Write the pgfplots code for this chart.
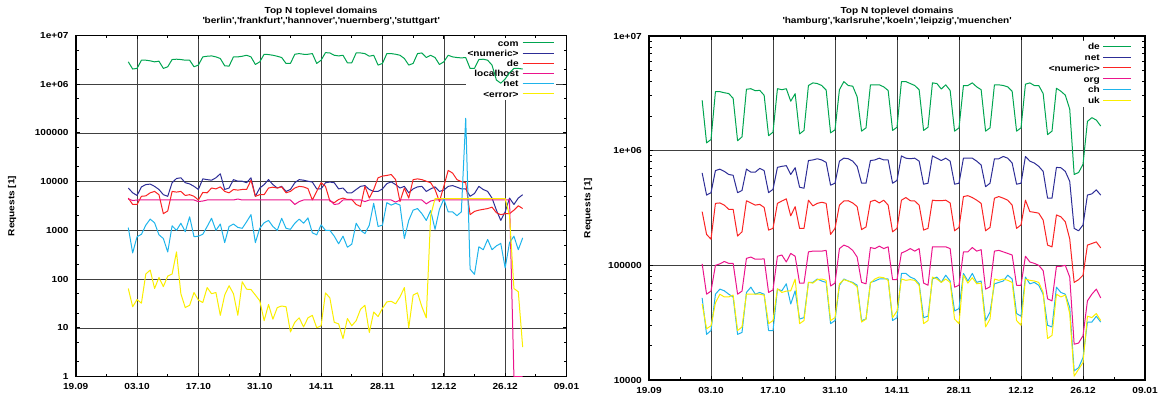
\documentclass[border=0pt]{standalone}
\usepackage{fontspec}
\setmainfont{Liberation Sans}[FakeStretch=1.15]
\usepackage{pgfplots}
\pgfplotsset{compat=1.18}
\usepackage{pgfplotstable}
\definecolor{cG}{RGB}{0,165,80}
\definecolor{cN}{RGB}{45,45,150}
\definecolor{cR}{RGB}{250,35,35}
\definecolor{cM}{RGB}{235,20,140}
\definecolor{cC}{RGB}{30,180,235}
\definecolor{cY}{RGB}{250,238,0}
\newcommand\fnt{\fontsize{8.8}{10}\selectfont\bfseries}
\newcommand\q{\textquotesingle}
\newcommand\lsL{\rule[-3.3bp]{0pt}{9.9bp}}
\newcommand\lsR{\rule[-3.5bp]{0pt}{10.5bp}}

\pgfplotstableread{
d com num de lh net err
12 2.88e6 7.4e3 4.6e3 4400 1140 64
13 2.05e6 5.9e3 3.4e3 4100 344 27
14 2.11e6 5.2e3 3.4e3 4200 740 38
15 3.11e6 7.8e3 5.0e3 4200 830 32
16 3.11e6 8.7e3 5.1e3 4200 1280 127
17 3.02e6 8.9e3 5.9e3 4200 1700 153
18 2.88e6 8.0e3 6.3e3 4200 1430 64
19 2.97e6 6.9e3 5.4e3 4200 810 108
20 2.11e6 5.4e3 2.2e3 4200 680 70
21 2.28e6 5.0e3 2.5e3 4200 360 115
22 3.21e6 9.5e3 6.3e3 4200 1240 127
23 3.26e6 1.16e4 6.1e3 4200 1000 360
24 3.21e6 1.2e4 6.3e3 4200 1400 50
25 3.11e6 9.5e3 5.2e3 4200 940 26
26 3.11e6 9.0e3 5.4e3 4200 1900 29
27 2.28e6 8.0e3 5.0e3 4200 740 53
28 2.47e6 6.9e3 4.2e3 3900 760 37
29 3.64e6 1.14e4 6.0e3 4000 830 33
30 3.75e6 1.1e4 5.9e3 4200 1200 67
31 3.81e6 1.07e4 7.4e3 4200 1770 50
32 3.64e6 1.2e4 7.1e3 4200 1000 53
33 3.37e6 1.45e4 7.8e3 4200 1350 18
34 2.39e6 6.9e3 6.3e3 4200 560 47
35 2.35e6 7.4e3 5.9e3 4200 1200 73
36 3.64e6 1.1e4 6.9e3 4200 1350 50
37 3.64e6 1.02e4 6.7e3 4400 1150 18
38 3.75e6 1.02e4 6.9e3 4200 1100 88
39 3.93e6 9.5e3 6.9e3 4200 1500 62
40 3.64e6 1.2e4 1.07e4 4200 2100 61
41 2.54e6 5.0e3 5.0e3 4200 560 47
42 2.88e6 7.4e3 5.4e3 4200 1100 36
43 4.12e6 8.7e3 5.4e3 4200 1430 14
44 4.06e6 1.1e4 7.4e3 4200 1600 30
45 3.93e6 8.7e3 7.7e3 4200 1200 15
46 3.75e6 7.4e3 7.4e3 4200 1000 26
47 3.53e6 8.0e3 7.8e3 4200 1770 28
48 2.67e6 6.3e3 5.9e3 4200 1100 27
49 2.67e6 6.9e3 6.3e3 4200 1050 8.2
50 4.12e6 9.5e3 7.4e3 3400 1400 13
51 4.25e6 1.1e4 8.0e3 3900 1700 16
52 4.12e6 1.07e4 7.8e3 4200 1400 10.4
53 4.12e6 1.02e4 7.2e3 4200 1800 16
54 4.25e6 9.8e3 4.2e3 4200 890 18
55 2.67e6 7.1e3 6.3e3 4200 810 10
56 3.11e6 7.1e3 9.5e3 4200 1300 11
57 4.45e6 9.5e3 8.0e3 4200 1000 52
58 4.38e6 9.8e3 4.0e3 4200 1000 41
59 3.93e6 9.5e3 3.7e3 3400 760 13
60 3.81e6 7.1e3 4.3e3 3500 530 12
61 3.93e6 7.4e3 4.6e3 4200 760 6
62 2.75e6 5.9e3 4.3e3 4200 450 15.5
63 2.75e6 5.9e3 4.3e3 4200 520 11
64 4.38e6 6.9e3 3.4e3 4200 1400 14
65 4.38e6 8.0e3 3.1e3 4200 1000 24
66 4.25e6 8.3e3 8.0e3 3900 860 29
67 3.75e6 6.9e3 4.6e3 4200 1280 8
68 3.93e6 6.3e3 6.9e3 4200 3600 21
69 2.47e6 6.3e3 1.2e4 4200 1200 17
70 2.67e6 7.1e3 1.3e4 4200 1280 25
71 4.25e6 9.1e3 1.34e4 4200 3700 34
72 4.25e6 9.9e3 1.4e4 4200 3300 35
73 4.12e6 8.7e3 1.1e4 3800 3600 31
74 3.93e6 7.4e3 3.9e3 4200 3300 43
75 3.37e6 8.0e3 7.4e3 4200 680 67
76 2.47e6 5.9e3 4.6e3 4200 1600 10
77 2.67e6 7.1e3 1.1e4 4200 2600 47
78 4.25e6 7.8e3 1.14e4 4200 2800 52
79 4.38e6 8.0e3 1.1e4 4200 2200 27
80 3.53e6 6.3e3 1.02e4 3500 1600 16
81 3.93e6 7.1e3 9.5e3 4000 2550 2000
82 3.53e6 7.8e3 6.9e3 4200 1050 4500
83 2.54e6 6.3e3 3.9e3 4200 2700 4500
84 2.88e6 6.7e3 8.0e3 4200 4400 4500
85 3.93e6 8.0e3 1.7e4 4200 2400 4500
86 3.64e6 8.3e3 1.5e4 4200 2400 4500
87 3.53e6 7.7e3 1.1e4 4200 2000 4500
88 3.47e6 7.1e3 1.0e4 4200 2400 4500
89 3.53e6 7.1e3 9.5e3 4200 2.0e5 4500
90 2.11e6 5.0e3 2.1e3 4200 160 4500
91 2.11e6 5.7e3 2.45e3 4200 125 4500
92 3.21e6 8.0e3 2.6e3 4200 460 4500
93 3.26e6 6.9e3 2.7e3 4200 400 4500
94 3.11e6 6.3e3 2.8e3 4200 650 4500
95 2.47e6 4.6e3 3.0e3 4200 400 4500
96 1.22e6 2.6e3 2.3e3 4200 480 4500
97 1.05e6 1.6e3 2.1e3 4200 540 4500
98 1.28e6 2.4e3 2.2e3 4200 170 4500
99 1.72e6 4.6e3 2.2e3 4200 560 2000
100 2.11e6 3.4e3 2.6e3 1 760 64
101 2.11e6 4.6e3 3.2e3 1 400 55
102 2.05e6 5.4e3 2.8e3 1 700 4
}\tabL

\pgfplotstableread{
d de net num org ch uk
12 2.75e6 6.4e5 2.94e5 1.03e5 5.2e4 4.6e4
13 1.17e6 4.1e5 1.86e5 5.6e4 2.5e4 2.8e4
14 1.25e6 4.3e5 1.69e5 5.96e4 2.7e4 2.97e4
15 3.27e6 6.7e5 3.47e5 1.0e5 5.6e4 4.7e4
16 3.27e6 6.9e5 3.5e5 1.03e5 6.2e4 5.6e4
17 3.2e6 6.6e5 3.35e5 1.08e5 6.0e4 5.3e4
18 3.15e6 6.2e5 3.08e5 1.04e5 5.6e4 5.3e4
19 2.86e6 6.1e5 3.08e5 1.04e5 5.3e4 5.5e4
20 1.22e6 4.3e5 1.8e5 5.6e4 2.5e4 2.7e4
21 1.32e6 4.5e5 1.96e5 5.96e4 2.6e4 2.9e4
22 3.43e6 6.9e5 3.66e5 1.15e5 5.8e4 5.6e4
23 3.47e6 6.5e5 3.5e5 1.18e5 6.45e4 5.6e4
24 3.33e6 6.5e5 3.35e5 1.13e5 5.6e4 5.6e4
25 3.36e6 7.0e5 3.4e5 1.13e5 5.8e4 5.6e4
26 3.04e6 6.7e5 3.2e5 1.14e5 5.6e4 5.5e4
27 1.35e6 4.3e5 2.03e5 5.8e4 2.7e4 3.1e4
28 1.45e6 4.6e5 2.1e5 6.1e4 2.7e4 3.3e4
29 3.47e6 7.15e5 3.47e5 1.2e5 6.2e4 6.25e4
30 3.4e6 7.3e5 3.64e5 1.23e5 6.0e4 5.8e4
31 3.47e6 7.4e5 3.8e5 1.07e5 6.9e4 5.96e4
32 2.7e6 6.2e5 2.7e5 1.27e5 4.6e4 6.0e4
33 3.14e6 7.1e5 3.25e5 1.2e5 6.0e4 7.6e4
34 1.4e6 4.8e5 2.1e5 7.0e4 3.4e4 3.1e4
35 1.5e6 4.7e5 2.1e5 7.0e4 3.5e4 3.3e4
36 3.7e6 8.2e5 3.7e5 1.31e5 7.1e4 7.1e4
37 3.9e6 8.3e5 3.3e5 1.33e5 7.1e4 7.0e4
38 3.85e6 8.5e5 3.47e5 1.33e5 7.6e4 7.5e4
39 3.7e6 8.3e5 3.55e5 1.33e5 7.3e4 7.6e4
40 3.38e6 7.9e5 3.47e5 1.35e5 7.1e4 7.4e4
41 1.43e6 5.0e5 1.86e5 6.6e4 3.1e4 3.3e4
42 1.52e6 5.2e5 2.1e5 7.0e4 3.3e4 3.5e4
43 3.4e6 8.1e5 3.35e5 1.4e5 6.7e4 6.9e4
44 4.0e6 8.6e5 3.64e5 1.5e5 7.6e4 7.5e4
45 3.7e6 8.5e5 3.66e5 1.45e5 7.3e4 7.3e4
46 3.65e6 8.1e5 3.5e5 1.35e5 7.1e4 7.0e4
47 2.95e6 7.3e5 3.25e5 1.18e5 6.7e4 6.5e4
48 1.48e6 5.2e5 2.05e5 7.1e4 3.3e4 3.2e4
49 1.58e6 5.2e5 2.16e5 6.9e4 3.4e4 3.4e4
50 3.75e6 8.2e5 3.6e5 1.43e5 7.1e4 7.0e4
51 3.75e6 8.3e5 3.7e5 1.4e5 7.3e4 7.6e4
52 3.75e6 8.6e5 3.5e5 1.47e5 7.6e4 7.9e4
53 3.6e6 8.3e5 3.7e5 1.4e5 7.6e4 7.8e4
54 3.35e6 8.3e5 3.35e5 1.45e5 7.6e4 7.4e4
55 1.5e6 5.2e5 1.96e5 7.5e4 3.3e4 3.5e4
56 1.6e6 5.5e5 2.1e5 7.5e4 3.5e4 4.0e4
57 4.0e6 9.0e5 3.7e5 1.28e5 8.5e4 7.6e4
58 4.0e6 8.6e5 3.9e5 1.33e5 8.5e4 7.4e4
59 3.85e6 8.5e5 3.66e5 1.4e5 7.9e4 7.5e4
60 3.7e6 8.6e5 3.64e5 1.33e5 7.6e4 7.4e4
61 3.4e6 8.1e5 3.35e5 1.4e5 6.9e4 6.7e4
62 1.5e6 5.1e5 2.03e5 7.0e4 3.5e4 3.1e4
63 1.6e6 5.2e5 2.1e5 6.7e4 3.6e4 3.3e4
64 3.9e6 9.0e5 3.7e5 1.45e5 7.6e4 7.9e4
65 3.85e6 8.6e5 3.66e5 1.45e5 7.9e4 7.6e4
66 3.45e6 8.2e5 3.66e5 1.45e5 7.1e4 7.1e4
67 3.75e6 8.6e5 3.7e5 1.45e5 8.2e4 7.6e4
68 3.35e6 8.1e5 3.5e5 1.4e5 7.3e4 7.1e4
69 1.48e6 5.1e5 2.0e5 6.45e4 4.0e4 3.4e4
70 1.58e6 5.2e5 2.14e5 6.7e4 4.2e4 3.1e4
71 3.7e6 8.6e5 3.98e5 1.31e5 8.5e4 8.2e4
72 3.7e6 8.6e5 4.05e5 1.31e5 7.3e4 7.0e4
73 3.9e6 8.6e5 3.9e5 1.43e5 8.5e4 7.8e4
74 3.6e6 8.1e5 3.7e5 1.33e5 7.1e4 6.9e4
75 3.4e6 7.5e5 3.47e5 1.37e5 7.3e4 7.0e4
76 1.48e6 4.85e5 2.0e5 6.2e4 3.3e4 2.9e4
77 1.58e6 5.2e5 2.14e5 6.5e4 3.9e4 3.4e4
78 3.75e6 8.5e5 3.85e5 1.33e5 6.9e4 7.6e4
79 3.75e6 8.5e5 3.98e5 1.35e5 7.1e4 7.4e4
80 3.7e6 8.9e5 3.85e5 1.31e5 7.3e4 7.6e4
81 3.6e6 8.6e5 3.7e5 1.27e5 8.2e4 7.4e4
82 3.3e6 7.8e5 3.35e5 1.23e5 7.6e4 7.1e4
83 1.48e6 5.1e5 2.1e5 6.7e4 3.8e4 3.3e4
84 1.58e6 5.2e5 2.25e5 6.7e4 3.6e4 3.0e4
85 3.8e6 8.9e5 3.7e5 1.2e5 7.9e4 7.6e4
86 3.9e6 8.1e5 2.94e5 1.07e5 6.9e4 7.4e4
87 3.7e6 7.8e5 2.9e5 1.04e5 7.1e4 7.3e4
88 3.7e6 7.3e5 2.85e5 1.0e5 6.7e4 7.1e4
89 3.15e6 6.6e5 2.48e5 9.0e4 5.6e4 5.8e4
90 1.38e6 3.85e5 1.5e5 5.1e4 3.0e4 2.3e4
91 1.48e6 3.85e5 1.45e5 4.9e4 2.9e4 2.45e4
92 3.5e6 7.15e5 2.75e5 9.8e4 6.45e4 5.6e4
93 3.3e6 7.1e5 2.65e5 9.8e4 5.8e4 5.3e4
94 3.05e6 6.6e5 2.4e5 1.0e5 5.6e4 5.5e4
95 2.3e6 5.4e5 1.7e5 7.9e4 4.3e4 3.8e4
96 6.2e5 2.1e5 7.1e4 2.05e4 1.2e4 1.08e4
97 6.45e5 2.0e5 7.5e4 2.1e4 1.28e4 1.24e4
98 7.6e5 2.25e5 8.2e4 2.43e4 1.57e4 1.42e4
99 1.8e6 4.1e5 1.5e5 4.9e4 3.2e4 3.6e4
100 1.94e6 4.2e5 1.55e5 5.6e4 3.2e4 3.5e4
101 1.85e6 4.55e5 1.6e5 6.2e4 3.6e4 3.8e4
102 1.64e6 4.1e5 1.42e5 5.2e4 3.2e4 3.3e4
}\tabR

\begin{document}
\begin{tikzpicture}
\useasboundingbox (0,0) rectangle (1160bp,394bp);
% ---------- left: frame, grid, legend ----------
\begin{semilogyaxis}[at={(75.7bp,17.5bp)}, anchor=south west,
  scale only axis, width=490.8bp, height=341bp,
  xmin=0, xmax=112, ymin=1, ymax=1e7,
  xtick={0,14,28,42,56,70,84,98,112},
  xticklabels={19.09,03.10,17.10,31.10,14.11,28.11,12.12,26.12,09.01},
  minor xtick={7,21,35,49,63,77,91,105},
  ytick={1,10,100,1000,10000,100000,1000000,10000000},
  yticklabels={1,10,100,1000,10000,100000,1e+06,1e+07},
  minor ytick={2,5,20,50,200,500,2000,5000,20000,50000,200000,500000,2000000,5000000},
  grid=major,
  major grid style={black!75, line width=0.5bp},
  axis line style={line width=1.6bp},
  tick style={black, line width=1bp},
  major tick length=4bp, minor tick length=3bp,
  tick align=inside,
  tick label style={font=\fnt},
  xticklabel style={inner sep=0pt, yshift=-7bp},
  yticklabel style={inner sep=0pt, xshift=-7bp},
  title={Top N toplevel domains\\\q berlin\q,\q frankfurt\q,\q hannover\q,\q nuernberg\q,\q stuttgart\q},
  every axis title/.style={at={(rel axis cs:0.5,1)}, anchor=center, yshift=19bp, font=\fnt, align=center},
  ylabel={Requests [1]},
  every axis y label/.style={at={(rel axis cs:0,0.5)}, xshift=-63.7bp, rotate=90, anchor=center, font=\fnt},
  legend cell align=right,
  legend plot pos=right,
  legend image code/.code={\draw[#1, line width=1bp] (0bp,0.6bp) -- (31bp,0.6bp);},
  legend style={at={(rel axis cs:1,1)}, anchor=north east, xshift=-10.2bp, yshift=-2.3bp,
    draw=none, fill=white, font=\fnt, nodes={inner sep=0pt},
    inner xsep=2bp, inner ysep=1.5bp, column sep=3.5bp, row sep=2.1bp},
]
\addlegendimage{cG}
\addlegendimage{cN}
\addlegendimage{cR}
\addlegendimage{cM}
\addlegendimage{cC}
\addlegendimage{cY}
\legend{\lsL com,\lsL <numeric>,\lsL de,\lsL localhost,\lsL net,\lsL <error>}
\end{semilogyaxis}
% ---------- left: data on top ----------
\begin{semilogyaxis}[at={(75.7bp,17.5bp)}, anchor=south west,
  scale only axis, width=490.8bp, height=341bp,
  xmin=0, xmax=112, ymin=1, ymax=1e7, hide axis,
  every axis plot/.append style={line width=1bp, line join=round},
]
\addplot[cG, no markers] table[x=d, y=com] {\tabL};
\addplot[cN, no markers] table[x=d, y=num] {\tabL};
\addplot[cR, no markers] table[x=d, y=de] {\tabL};
\addplot[cM, no markers] table[x=d, y=lh] {\tabL};
\addplot[cC, no markers] table[x=d, y=net] {\tabL};
\addplot[cY, no markers] table[x=d, y=err] {\tabL};
\end{semilogyaxis}
% ---------- right: frame, grid, legend ----------
\begin{semilogyaxis}[at={(649bp,14bp)}, anchor=south west,
  scale only axis, width=496bp, height=344bp,
  xmin=0, xmax=112, ymin=10000, ymax=1e7,
  xtick={0,14,28,42,56,70,84,98,112},
  xticklabels={19.09,03.10,17.10,31.10,14.11,28.11,12.12,26.12,09.01},
  minor xtick={7,21,35,49,63,77,91,105},
  ytick={10000,100000,1000000,10000000},
  yticklabels={10000,100000,1e+06,1e+07},
  minor ytick={20000,30000,40000,50000,60000,70000,80000,90000,200000,300000,400000,500000,600000,700000,800000,900000,2000000,3000000,4000000,5000000,6000000,7000000,8000000,9000000},
  grid=major,
  major grid style={black!75, line width=0.5bp},
  axis line style={line width=1.6bp},
  tick style={black, line width=1bp},
  major tick length=4bp, minor tick length=3bp,
  tick align=inside,
  tick label style={font=\fnt},
  xticklabel style={inner sep=0pt, yshift=-7bp},
  yticklabel style={inner sep=0pt, xshift=-7bp},
  title={Top N toplevel domains\\\q hamburg\q,\q karlsruhe\q,\q koeln\q,\q leipzig\q,\q muenchen\q},
  every axis title/.style={at={(rel axis cs:0.5,1)}, anchor=center, yshift=19.5bp, font=\fnt, align=center},
  ylabel={Requests [1]},
  every axis y label/.style={at={(rel axis cs:0,0.5)}, xshift=-61bp, rotate=90, anchor=center, font=\fnt},
  legend cell align=right,
  legend plot pos=right,
  legend image code/.code={\draw[#1, line width=1bp] (0bp,0.6bp) -- (28bp,0.6bp);},
  legend style={at={(rel axis cs:1,1)}, anchor=north east, xshift=-11bp, yshift=-5bp,
    draw=none, fill=white, font=\fnt, nodes={inner sep=0pt},
    inner xsep=2bp, inner ysep=1.5bp, column sep=3bp, row sep=2.3bp},
]
\addlegendimage{cG}
\addlegendimage{cN}
\addlegendimage{cR}
\addlegendimage{cM}
\addlegendimage{cC}
\addlegendimage{cY}
\legend{\lsR de,\lsR net,\lsR <numeric>,\lsR org,\lsR ch,\lsR uk}
\end{semilogyaxis}
% ---------- right: data on top ----------
\begin{semilogyaxis}[at={(649bp,14bp)}, anchor=south west,
  scale only axis, width=496bp, height=344bp,
  xmin=0, xmax=112, ymin=10000, ymax=1e7, hide axis,
  every axis plot/.append style={line width=1bp, line join=round},
]
\addplot[cG, no markers] table[x=d, y=de] {\tabR};
\addplot[cN, no markers] table[x=d, y=net] {\tabR};
\addplot[cR, no markers] table[x=d, y=num] {\tabR};
\addplot[cM, no markers] table[x=d, y=org] {\tabR};
\addplot[cC, no markers] table[x=d, y=ch] {\tabR};
\addplot[cY, no markers] table[x=d, y=uk] {\tabR};
\end{semilogyaxis}
\end{tikzpicture}
\end{document}
